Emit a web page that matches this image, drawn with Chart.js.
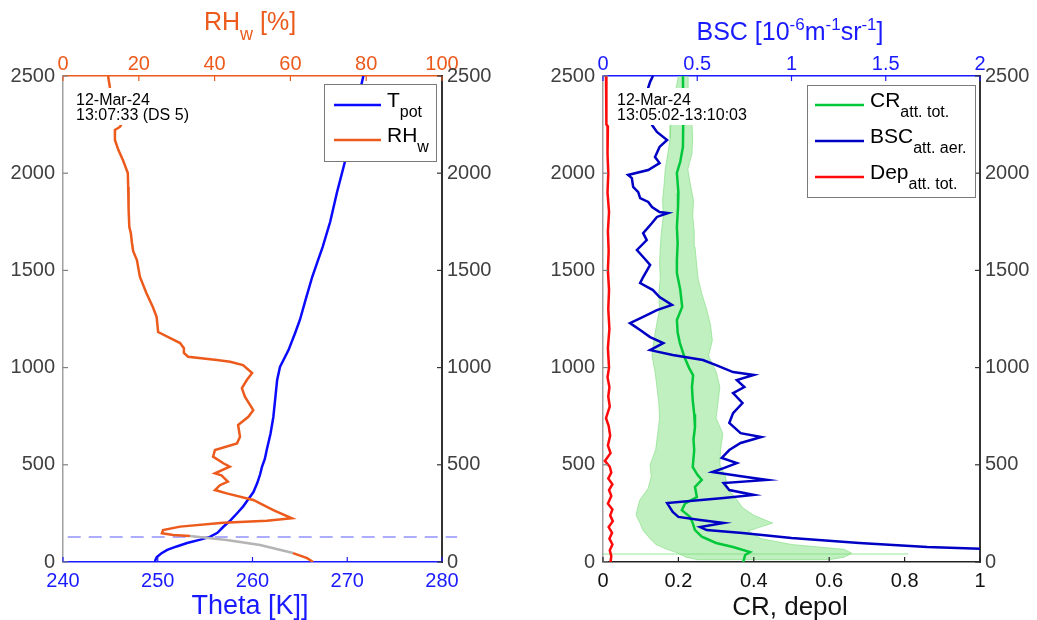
<!DOCTYPE html>
<html><head><meta charset="utf-8">
<script src="https://cdn.jsdelivr.net/npm/chart.js@4.4.1/dist/chart.umd.min.js"></script>
<style>
html,body{margin:0;padding:0;background:#fff;width:1037px;height:620px;overflow:hidden}
#wA{position:absolute;left:0;top:0;width:520px;height:620px}
#wB{position:absolute;left:520px;top:0;width:517px;height:620px}
canvas{display:block}
</style></head><body>
<div id="wA"><canvas id="cA" width="520" height="620" style="width:520px;height:620px"></canvas></div>
<div id="wB"><canvas id="cB" width="517" height="620" style="width:517px;height:620px"></canvas></div>
<script>
// ---------- DATA (left panel: radiosonde) ----------
const yTicks = [0, 500, 1000, 1500, 2000, 2500];
const thetaTicks = [240, 250, 260, 270, 280];
const rhTicks = [0, 20, 40, 60, 80, 100];
const crTicks = [0, 0.2, 0.4, 0.6, 0.8, 1];
const bscTicks = [0, 0.5, 1, 1.5, 2];

const tpotAlt = [0,10,26,45,62,80,98,115,129,150,180,215,252,285,319,360,406,450,489,530,576,660,746,840,936,1003,1090,1178,1245,1348,1466,1550,1620,1750,1898,2068,2200,2350,2500];
const tpotVal = [249.7,249.75,249.9,250.4,251.0,252.0,253.1,254.5,255.5,256.3,256.9,257.7,258.4,259.0,259.5,260.1,260.5,260.8,261.0,261.3,261.5,261.9,262.2,262.4,262.6,262.9,263.8,264.5,265.0,265.6,266.3,266.9,267.4,268.2,268.9,269.8,270.4,271.0,271.7];

const rhAlt = [2500,2438,2248,2238,2222,2171,2120,2068,2001,1929,1820,1723,1692,1641,1600,1553,1466,1384,1312,1261,1183,1126,1100,1075,1056,1039,1030,1013,972,936,894,850,781,747,705,644,610,576,542,508,490,456,446,414,395,370,353,319,267,225,212,202,182,164,148,139,134,113,87,46,20,0];
const rhVal = [11.9,12.4,15.3,15.0,13.7,13.7,14.6,15.8,17.1,17.2,17.3,17.5,17.9,18.2,18.5,19.5,20.3,22.0,23.7,24.7,25.1,30.9,31.9,31.9,33.0,40.6,44.1,47.5,49.9,48.5,47.2,48.0,50.2,48.9,46.2,46.7,45.9,40.1,39.6,42.3,44.0,40.1,41.8,43.5,41.4,40.1,43.2,50.2,55.5,60.4,53.8,42.3,30.9,26.4,26.1,29.1,33.5,43.2,52.0,60.7,64.4,66.0];
const rhGreyTop = 134, rhGreyBottom = 46;   // flagged (grey) part of the RH profile

const pblAlt = 129;              // dashed reference height
const pblTheta = [240.5, 281.6];

// ---------- DATA (right panel: ceilometer) ----------
const crAlt = [2500,2300,2135,2060,2001,1900,1826,1723,1640,1553,1487,1400,1312,1245,1180,1126,1049,1000,960,900,833,760,694,630,576,489,450,422,386,334,302,267,232,200,164,130,98,77,51,36,0];
const crVal = [0.212,0.213,0.212,0.205,0.196,0.200,0.199,0.196,0.198,0.196,0.196,0.205,0.210,0.196,0.198,0.204,0.217,0.228,0.239,0.236,0.238,0.242,0.244,0.240,0.242,0.238,0.250,0.262,0.244,0.249,0.218,0.209,0.231,0.238,0.244,0.262,0.300,0.345,0.390,0.377,0.372];

const bandAlt = [2500,2420,2340,2260,2180,2100,2020,1940,1860,1780,1700,1620,1540,1460,1380,1300,1220,1140,1060,980,900,820,740,660,580,500,440,380,320,280,240,200,160,120,90,65,45,25,12];
const bandLo  = [0.200,0.192,0.188,0.180,0.178,0.172,0.165,0.162,0.158,0.160,0.155,0.152,0.150,0.152,0.148,0.150,0.142,0.135,0.130,0.138,0.143,0.148,0.150,0.145,0.140,0.125,0.128,0.120,0.098,0.092,0.088,0.098,0.107,0.125,0.140,0.170,0.200,0.220,0.250];
const bandHi  = [0.226,0.228,0.232,0.236,0.238,0.236,0.225,0.232,0.240,0.238,0.242,0.244,0.248,0.252,0.262,0.275,0.285,0.290,0.280,0.300,0.310,0.305,0.300,0.318,0.312,0.310,0.325,0.330,0.355,0.370,0.400,0.450,0.385,0.420,0.500,0.640,0.660,0.640,0.600];
const spikeAlt = 41, spikeCR = [0, 0.81];

const bscAlt = [2500,2470,2440,2248,2212,2171,2135,2083,2052,2016,1991,1975,1929,1903,1872,1852,1826,1800,1795,1775,1744,1692,1656,1605,1569,1528,1466,1435,1399,1363,1322,1296,1261,1229,1193,1157,1126,1090,1065,1039,1013,977,962,936,900,869,818,766,715,663,643,612,576,535,509,483,463,437,422,406,370,345,329,303,257,232,216,201,180,164,149,123,98,77,68,55];
const bscVal = [0.265,0.25,0.24,0.26,0.286,0.34,0.30,0.276,0.30,0.24,0.133,0.153,0.16,0.187,0.197,0.24,0.26,0.30,0.345,0.286,0.26,0.213,0.232,0.18,0.213,0.25,0.213,0.197,0.265,0.30,0.366,0.286,0.213,0.143,0.197,0.25,0.32,0.25,0.37,0.53,0.60,0.69,0.80,0.71,0.75,0.69,0.74,0.69,0.67,0.73,0.84,0.73,0.67,0.63,0.71,0.64,0.58,0.76,0.87,0.64,0.67,0.80,0.64,0.34,0.37,0.40,0.515,0.64,0.515,0.55,0.74,1.0,1.36,1.72,2.0,2.5];

const depAlt = [2500,2250,2240,2100,2000,1900,1800,1700,1600,1500,1400,1300,1200,1100,1000,950,900,850,800,740,700,650,600,560,520,490,460,430,400,370,340,300,270,240,210,180,150,120,90,60,30,0];
const depVal = [0.008,0.009,0.013,0.012,0.014,0.012,0.016,0.013,0.015,0.013,0.016,0.014,0.017,0.013,0.016,0.012,0.017,0.014,0.018,0.008,0.015,0.019,0.013,0.020,0.005,0.018,0.022,0.014,0.025,0.016,0.022,0.013,0.025,0.019,0.026,0.015,0.024,0.017,0.025,0.018,0.022,0.020];

// ---------- STYLE ----------
const FONT = '"Liberation Sans", Arial, Helvetica, sans-serif';
const C_ORANGE = '#ec5a1c', C_AXBLUE = '#1a1aff', C_TPOT = '#0a0aff', C_BSC = '#0000c4';
const C_CR = '#00c83a', C_BAND = 'rgba(140,226,140,0.55)', C_DEP = '#ff0a0a', C_GREY = '#b4b4b4';
const C_YLAB = '#404040';

const pts = (alts, vals) => alts.map((a, i) => ({x: vals[i], y: a}));
const fixedTicks = arr => (s => { s.ticks = arr.map(v => ({value: v})); });
const plain = v => String(v);

function yScale(pos, w) {
  return {
    type: 'linear', position: pos, min: 0, max: 2500,
    afterBuildTicks: fixedTicks(yTicks),
    ticks: {autoSkip: false, callback: plain, color: C_YLAB, font: {family: FONT, size: 20}, padding: pos === 'left' ? 8 : 5},
    grid: {display: false, drawTicks: false},
    border: {display: true, color: pos === 'left' ? '#a0a0a0' : '#333333', width: pos === 'left' ? 1.5 : 2},
    afterFit: s => { s.width = w; }
  };
}
function xScale(pos, min, max, tickArr, color, bcolor, h) {
  return {
    type: 'linear', position: pos, min: min, max: max,
    afterBuildTicks: fixedTicks(tickArr),
    ticks: {autoSkip: false, callback: plain, maxRotation: 0, color: color, font: {family: FONT, size: 20}, padding: pos === 'top' ? 0 : 7},
    grid: {display: false, drawTicks: false},
    border: {display: true, color: bcolor, width: 1.5},
    afterFit: s => { s.height = h; }
  };
}

function inwardTicks(ctx, a, s, side, color) {
  ctx.strokeStyle = color; ctx.lineWidth = 1.2;
  s.ticks.forEach(t => {
    const p = s.getPixelForValue(t.value);
    ctx.beginPath();
    if (side === 'bottom') { ctx.moveTo(p, a.bottom); ctx.lineTo(p, a.bottom - 5); }
    if (side === 'top') { ctx.moveTo(p, a.top); ctx.lineTo(p, a.top + 5); }
    if (side === 'left') { ctx.moveTo(a.left, p); ctx.lineTo(a.left + 5, p); }
    if (side === 'right') { ctx.moveTo(a.right, p); ctx.lineTo(a.right - 5, p); }
    ctx.stroke();
  });
}
function rich(ctx, x, y, parts, color, align) {
  let total = 0;
  const ps = parts.map(p => { ctx.font = p[1] + 'px ' + FONT; const w = ctx.measureText(p[0]).width; total += w; return {t: p[0], s: p[1], dy: p[2], w: w}; });
  let cx = align === 'center' ? x - total / 2 : x;
  ctx.fillStyle = color; ctx.textAlign = 'left'; ctx.textBaseline = 'alphabetic';
  ps.forEach(p => { ctx.font = p.s + 'px ' + FONT; ctx.fillText(p.t, cx, y + p.dy); cx += p.w; });
}
function legendBox(ctx, box, rows, lineX0, lineX1, textX) {
  ctx.fillStyle = '#fff'; ctx.fillRect(box[0], box[1], box[2] - box[0], box[3] - box[1]);
  ctx.strokeStyle = '#7a7a7a'; ctx.lineWidth = 1; ctx.strokeRect(box[0] + 0.5, box[1] + 0.5, box[2] - box[0], box[3] - box[1]);
  rows.forEach(r => {
    ctx.strokeStyle = r.color; ctx.lineWidth = 2.5; ctx.beginPath(); ctx.moveTo(lineX0, r.y); ctx.lineTo(lineX1, r.y); ctx.stroke();
    rich(ctx, textX, r.y + 2, [[r.main, 21, 0], [r.sub, 16, 10]], '#000', 'left');
  });
}
function stamp(ctx, x, lines, rect) {
  ctx.fillStyle = '#fff'; ctx.fillRect(rect[0], rect[1], rect[2], rect[3]);
  ctx.fillStyle = '#000'; ctx.font = '16px ' + FONT; ctx.textAlign = 'left'; ctx.textBaseline = 'alphabetic';
  ctx.fillText(lines[0], x, 105); ctx.fillText(lines[1], x, 120);
}

const baseOpts = {
  responsive: false, animation: false, devicePixelRatio: 1,
  layout: {padding: 0},
  plugins: {legend: {display: false}, tooltip: {enabled: false}},
  elements: {point: {radius: 0}, line: {tension: 0}}
};

// ---------- LEFT CHART ----------
const decorA = {
  id: 'decorA',
  afterDraw(chart) {
    const ctx = chart.ctx, a = chart.chartArea, S = chart.scales;
    ctx.save();
    inwardTicks(ctx, a, S.x, 'bottom', C_AXBLUE);
    inwardTicks(ctx, a, S.x2, 'top', C_ORANGE);
    inwardTicks(ctx, a, S.y, 'left', '#808080');
    inwardTicks(ctx, a, S.y2, 'right', '#333');
    stamp(ctx, 76, ['12-Mar-24', '13:07:33 (DS 5)'], [73, 88, 119, 37]);
    legendBox(ctx, [324, 84, 436, 161], [
      {y: 105, color: C_TPOT, main: 'T', sub: 'pot'},
      {y: 140, color: C_ORANGE, main: 'RH', sub: 'w'}
    ], 334, 381, 387);
    rich(ctx, 250, 30, [['RH', 25, 0], ['w', 18, 10], [' [%]', 25, 0]], C_ORANGE, 'center');
    rich(ctx, 250, 614, [['Theta [K]]', 27, 0]], C_AXBLUE, 'center');
    ctx.restore();
  }
};

new Chart(document.getElementById('cA'), {
  type: 'scatter',
  data: {datasets: [
    {label: 'RHw', data: pts(rhAlt, rhVal), xAxisID: 'x2', yAxisID: 'y', showLine: true,
     borderColor: C_ORANGE, borderWidth: 2.5, pointRadius: 0,
     segment: {borderColor: c => (c.p0.parsed.y <= rhGreyTop && c.p0.parsed.y >= rhGreyBottom &&
                                   c.p1.parsed.y <= rhGreyTop && c.p1.parsed.y >= rhGreyBottom) ? C_GREY : undefined}},
    {label: 'Tpot', data: pts(tpotAlt, tpotVal), xAxisID: 'x', yAxisID: 'y', showLine: true,
     borderColor: C_TPOT, borderWidth: 2.5, pointRadius: 0},
    {label: 'ref', data: pblTheta.map(t => ({x: t, y: pblAlt})), xAxisID: 'x', yAxisID: 'y', showLine: true,
     borderColor: 'rgba(110,110,255,0.75)', borderWidth: 1.5, borderDash: [13, 8], pointRadius: 0, clip: false}
  ]},
  options: Object.assign({}, baseOpts, {
    scales: {
      x: xScale('bottom', 240, 280, thetaTicks, C_AXBLUE, C_AXBLUE, 58),
      x2: xScale('top', 0, 100, rhTicks, C_ORANGE, C_ORANGE, 76),
      y: yScale('left', 63),
      y2: yScale('right', 78)
    }
  }),
  plugins: [decorA]
});

// ---------- RIGHT CHART ----------
const decorB = {
  id: 'decorB',
  afterDraw(chart) {
    const ctx = chart.ctx, a = chart.chartArea, S = chart.scales;
    ctx.save();
    inwardTicks(ctx, a, S.x, 'bottom', '#222');
    inwardTicks(ctx, a, S.x2, 'top', C_AXBLUE);
    inwardTicks(ctx, a, S.y, 'left', '#808080');
    inwardTicks(ctx, a, S.y2, 'right', '#333');
    stamp(ctx, 97, ['12-Mar-24', '13:05:02-13:10:03'], [93, 88, 138, 37]);
    legendBox(ctx, [287, 85, 455, 197], [
      {y: 105, color: C_CR, main: 'CR', sub: 'att. tot.'},
      {y: 141, color: C_BSC, main: 'BSC', sub: 'att. aer.'},
      {y: 177, color: C_DEP, main: 'Dep', sub: 'att. tot.'}
    ], 295, 344, 350);
    rich(ctx, 270, 40, [['BSC [10', 25, 0], ['-6', 17, -10], ['m', 25, 0], ['-1', 17, -10], ['sr', 25, 0], ['-1', 17, -10], [']', 25, 0]], C_AXBLUE, 'center');
    rich(ctx, 270, 615, [['CR, depol', 26, 0]], '#111', 'center');
    ctx.restore();
  }
};

const bandPoly = pts(bandAlt, bandLo).concat(pts(bandAlt, bandHi).reverse());

new Chart(document.getElementById('cB'), {
  type: 'scatter',
  data: {datasets: [
    {label: 'Dep', data: pts(depAlt, depVal), xAxisID: 'x', yAxisID: 'y', showLine: true,
     borderColor: C_DEP, borderWidth: 2.5, pointRadius: 0},
    {label: 'BSC', data: pts(bscAlt, bscVal), xAxisID: 'x2', yAxisID: 'y', showLine: true,
     borderColor: C_BSC, borderWidth: 2.5, pointRadius: 0},
    {label: 'CR', data: pts(crAlt, crVal), xAxisID: 'x', yAxisID: 'y', showLine: true,
     borderColor: C_CR, borderWidth: 2.5, pointRadius: 0},
    {label: 'spike', data: spikeCR.map(v => ({x: v, y: spikeAlt})), xAxisID: 'x', yAxisID: 'y', showLine: true,
     borderColor: 'rgba(125,222,125,0.8)', borderWidth: 1, pointRadius: 0},
    {label: 'band', data: bandPoly, xAxisID: 'x', yAxisID: 'y', showLine: true,
     borderColor: 'rgba(125,222,125,0.6)', borderWidth: 1, backgroundColor: C_BAND, fill: 'shape', pointRadius: 0}
  ]},
  options: Object.assign({}, baseOpts, {
    scales: {
      x: xScale('bottom', 0, 1, crTicks, '#111', '#222', 58),
      x2: xScale('top', 0, 2, bscTicks, C_AXBLUE, C_AXBLUE, 76),
      y: yScale('left', 83),
      y2: yScale('right', 57)
    }
  }),
  plugins: [decorB]
});
</script></body></html>
